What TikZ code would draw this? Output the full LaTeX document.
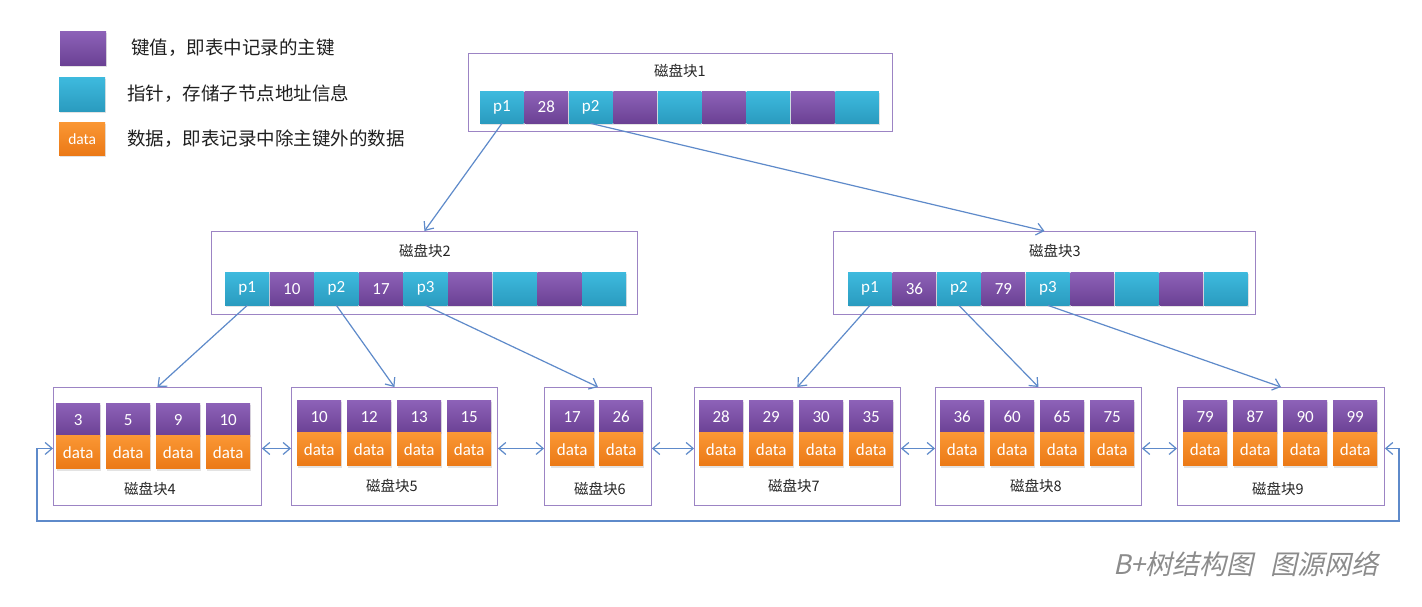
\documentclass[tikz,border=0pt]{standalone}
\usepackage{fontspec}
\setmainfont{Carlito}
\newfontfamily\cjk{Noto Sans CJK SC}
\newfontfamily\cjkit{Noto Sans CJK SC}[FakeSlant=0.22]
\usetikzlibrary{arrows.meta,shadows}
\definecolor{kpurT}{HTML}{8D62B8}
\definecolor{kpurB}{HTML}{6B4194}
\definecolor{pcyT}{HTML}{3EBADE}
\definecolor{pcyB}{HTML}{2A9BBF}
\definecolor{dorT}{HTML}{FA9734}
\definecolor{dorB}{HTML}{EB7916}
\definecolor{boxc}{HTML}{9C84C4}
\definecolor{linec}{HTML}{5E8ACA}
\definecolor{capc}{HTML}{8C8C8C}
\tikzset{
  cellbase/.style={minimum height=32pt, inner sep=0pt, text=white,
    font=\fontsize{17}{17}\selectfont,
    drop shadow={opacity=0.22, shadow xshift=1pt, shadow yshift=-2pt}},
  keycell/.style={cellbase, top color=kpurT, bottom color=kpurB},
  ptrcell/.style={cellbase, top color=pcyT, bottom color=pcyB},
  datacell/.style={cellbase, top color=dorT, bottom color=dorB},
  leafw/.style={minimum width=44pt, minimum height=33pt},
  blockbox/.style={draw=boxc, line width=0.9pt, fill=white, inner sep=0pt},
  titletext/.style={font=\cjk\fontsize{14.5}{14.5}\selectfont, text=black!85, inner sep=0pt},
  legtext/.style={font=\cjk\fontsize{18.5}{18.5}\selectfont, text=black!88, inner sep=0pt, anchor=west},
  tree/.style={draw=linec, line width=1.2pt, -{Straight Barb[length=7pt,width=12pt]}},
  dbl/.style={draw=linec, line width=1.2pt, {Straight Barb[length=7pt,width=12pt]}-{Straight Barb[length=7pt,width=12pt]}},
}
\newcommand\mkleaf[5]{%
  \foreach \k [count=\i from 0] in {#5} {
    \node[keycell, leafw, anchor=north west] (#1k\i) at ({#2+\i*#3},#4) {\k};
    \node[datacell, leafw, anchor=north west] (#1d\i) at ({#2+\i*#3},{#4+32.5}) {data};
  }}
\begin{document}
\begin{tikzpicture}[x=1pt,y=-1pt]
\useasboundingbox (0,0) rectangle (1422,606);
\fill[white] (0,0) rectangle (1422,606);

% legend
\node[keycell, minimum width=46pt, minimum height=34pt, anchor=north west] (lk) at (60,31) {};
\node[ptrcell, minimum width=46pt, minimum height=34pt, anchor=north west] (lp) at (59,77) {};
\node[datacell, minimum width=46pt, minimum height=33pt, anchor=north west, font=\fontsize{15.5}{15.5}\selectfont] (ld) at (59,122) {data};
\node[legtext] (lkt) at (131,48) {键值，即表中记录的主键};
\node[legtext] (lpt) at (127,94) {指针，存储子节点地址信息};
\node[legtext] (ldt) at (127,139) {数据，即表记录中除主键外的数据};

% internal blocks
\node[blockbox, minimum width=424pt, minimum height=78pt, anchor=north west] (b1) at (468,53) {};
\node[blockbox, minimum width=426pt, minimum height=83pt, anchor=north west] (b2) at (211,231) {};
\node[blockbox, minimum width=422pt, minimum height=83pt, anchor=north west] (b3) at (833,231) {};
\node[titletext] (t1) at (680,71) {磁盘块1};
\node[titletext] (t2) at (425,251) {磁盘块2};
\node[titletext] (t3) at (1055,251) {磁盘块3};

\foreach \i/\t/\s in {0/p1/ptrcell,1/28/keycell,2/p2/ptrcell,3/{}/keycell,4/{}/ptrcell,5/{}/keycell,6/{}/ptrcell,7/{}/keycell,8/{}/ptrcell}
  \node[\s, minimum width=43.5pt, anchor=north west] (b1c\i) at ({480+\i*44.4},91) {\t};
\foreach \i/\t/\s in {0/p1/ptrcell,1/10/keycell,2/p2/ptrcell,3/17/keycell,4/p3/ptrcell,5/{}/keycell,6/{}/ptrcell,7/{}/keycell,8/{}/ptrcell}
  \node[\s, minimum width=44pt, minimum height=33pt, anchor=north west] (b2c\i) at ({225+\i*44.6},272) {\t};
\foreach \i/\t/\s in {0/p1/ptrcell,1/36/keycell,2/p2/ptrcell,3/79/keycell,4/p3/ptrcell,5/{}/keycell,6/{}/ptrcell,7/{}/keycell,8/{}/ptrcell}
  \node[\s, minimum width=43.5pt, minimum height=33pt, anchor=north west] (b3c\i) at ({848+\i*44.5},272) {\t};

% leaf blocks
\node[blockbox, minimum width=208pt, minimum height=118pt, anchor=north west] (b4) at (53,387) {};
\node[blockbox, minimum width=206pt, minimum height=118pt, anchor=north west] (b5) at (291,387) {};
\node[blockbox, minimum width=107pt, minimum height=118pt, anchor=north west] (b6) at (544,387) {};
\node[blockbox, minimum width=206pt, minimum height=118pt, anchor=north west] (b7) at (694,387) {};
\node[blockbox, minimum width=206pt, minimum height=118pt, anchor=north west] (b8) at (935,387) {};
\node[blockbox, minimum width=207pt, minimum height=118pt, anchor=north west] (b9) at (1177,387) {};

\mkleaf{b4}{56}{50}{403}{3,5,9,10}
\mkleaf{b5}{297}{50}{400}{10,12,13,15}
\mkleaf{b6}{550}{49}{400}{17,26}
\mkleaf{b7}{699}{50}{400}{28,29,30,35}
\mkleaf{b8}{940}{50}{400}{36,60,65,75}
\mkleaf{b9}{1183}{50}{400}{79,87,90,99}

\node[titletext] (t4) at (150,489) {磁盘块4};
\node[titletext] (t5) at (392,486) {磁盘块5};
\node[titletext] (t6) at (600,489) {磁盘块6};
\node[titletext] (t7) at (794,486) {磁盘块7};
\node[titletext] (t8) at (1036,486) {磁盘块8};
\node[titletext] (t9) at (1278,489) {磁盘块9};

% tree connectors
\draw[tree] (b1c0.south) -- (b2.north);
\draw[tree] (b1c2.south) -- (b3.north);
\draw[tree] (b2c0.south) -- (b4.north);
\draw[tree] (b2c2.south) -- (b5.north);
\draw[tree] (b2c4.south) -- (b6.north);
\draw[tree] (b3c0.south) -- (b7.north);
\draw[tree] (b3c2.south) -- (b8.north);
\draw[tree] (b3c4.south) -- (b9.north);

% leaf links
\draw[dbl] ([yshift=-2pt]b4.east) -- ([yshift=-2pt]b5.west);
\draw[dbl] ([yshift=-2pt]b5.east) -- ([yshift=-2pt]b6.west);
\draw[dbl] ([yshift=-2pt]b6.east) -- ([yshift=-2pt]b7.west);
\draw[dbl] ([yshift=-2pt]b7.east) -- ([yshift=-2pt]b8.west);
\draw[dbl] ([yshift=-2pt]b8.east) -- ([yshift=-2pt]b9.west);
\coordinate (loopL) at (37,521);
\coordinate (loopR) at (1399,521);
\draw[dbl] ([yshift=-2pt]b4.west) -| (loopL) -- (loopR) |- ([yshift=-2pt]b9.east);

% caption
\node[anchor=west, inner sep=0pt, text=capc, font=\cjkit\fontsize{27}{27}\selectfont] (cap) at (1113,564) {B+树结构图\hspace{0.6em}图源网络};
\end{tikzpicture}
\end{document}
